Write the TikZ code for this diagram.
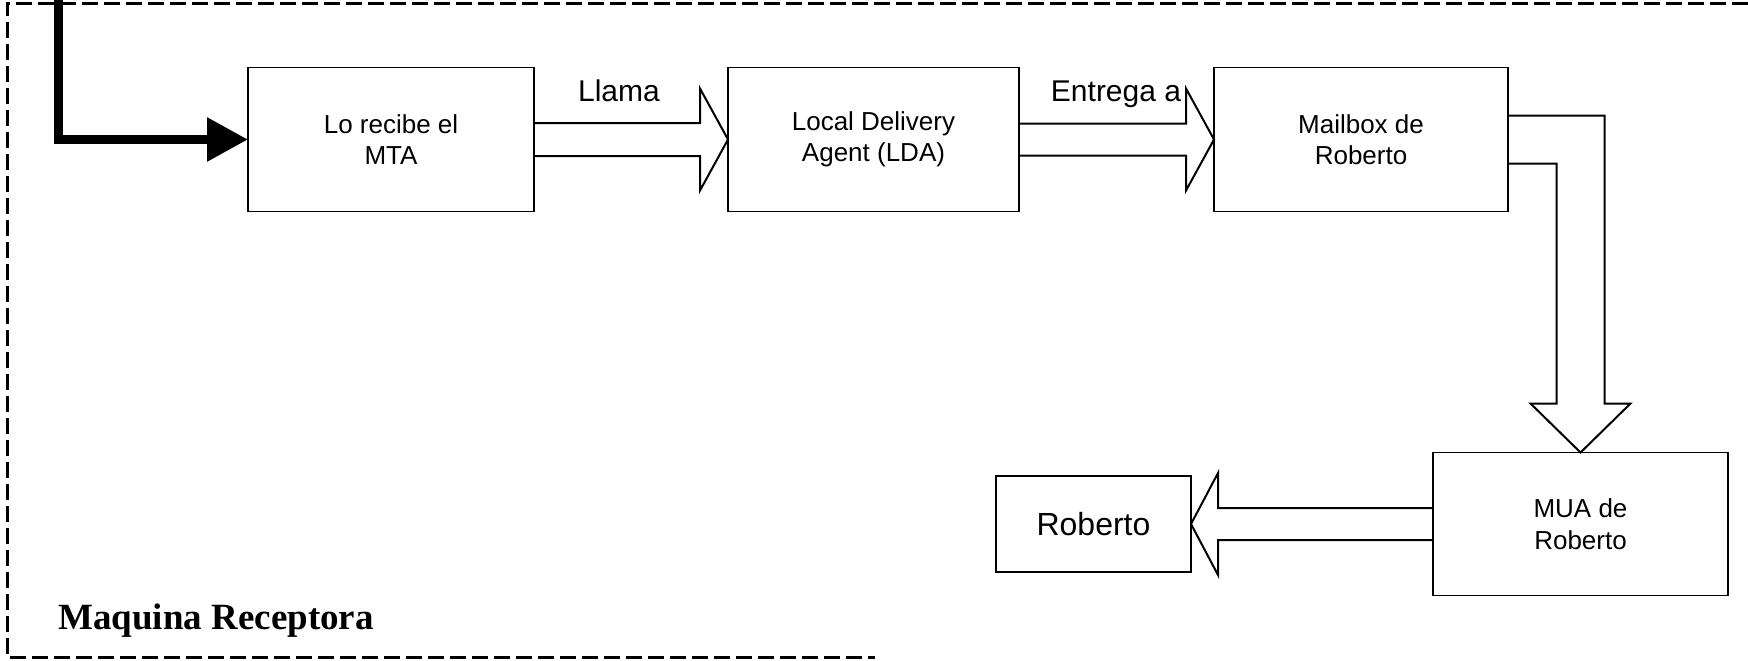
\documentclass[tikz,border=0pt]{standalone}
\usepackage{fontspec}
\setmainfont{Liberation Sans}
\newfontfamily\serifface{Liberation Serif}
\usetikzlibrary{calc,arrows.meta}
\begin{document}
\begin{tikzpicture}[x=0.5pt,y=-0.5pt,
  box/.style={draw,line width=0.8pt,inner sep=0pt,outer sep=0pt,align=center,
    font=\fontsize{13}{15.5}\selectfont},
  blockarrow/.style={draw,line width=1pt,line join=miter},
  lbl/.style={font=\fontsize{15}{18}\selectfont,inner sep=0pt,anchor=base},
  framestyle/.style={line width=1.5pt,dash pattern=on 8pt off 3pt},
  thickarrow/.style={line width=4.5pt,line join=miter,
    -{Triangle[length=20.5pt,width=21pt]}}]
\useasboundingbox (0,0) rectangle (1748,660);

% frame
\coordinate (fTR) at (1748,3);
\coordinate (fTL) at (7,3);
\coordinate (fBL) at (7,657);
\coordinate (fBR) at (875,657);
\draw[framestyle] (fTR) -- (fTL) -- (fBL) -- (fBR);

% boxes
\node[box,minimum width=143pt,minimum height=72pt] (b1) at (391,139.5) {Lo recibe el\\MTA};
\node[box,minimum width=145.5pt,minimum height=72pt] (b2) at (873.5,139.5) {Local Delivery\\Agent (LDA)};
\node[box,minimum width=147pt,minimum height=72pt] (b3) at (1361,139.5) {Mailbox de\\Roberto};
\node[box,minimum width=147.5pt,minimum height=71.5pt,font=\fontsize{13}{16}\selectfont] (mua) at (1580.5,524) {MUA de\\Roberto};
\node[box,minimum width=97.5pt,minimum height=48pt,font=\fontsize{16}{19}\selectfont] (rob) at (1093.5,524) {Roberto};

% labels
\node[lbl] (llama) at (619,101) {Llama};
\node[lbl] (entrega) at (1116,101) {Entrega a};
\node[anchor=base west,inner sep=0pt,font=\serifface\bfseries\fontsize{18.5}{22}\selectfont] (maq) at (58,629) {Maquina Receptora};

% incoming thick arrow
\coordinate (src) at (58,0);
\draw[thickarrow] (src) |- (b1.west);

% hollow arrow b1 -> b2
\draw[blockarrow] ($(b1.east)+(0,-16.5)$) -- ($(b2.west)+(-28,-16.5)$) -- ($(b2.west)+(-28,-51)$)
  -- (b2.west) -- ($(b2.west)+(-28,51)$) -- ($(b2.west)+(-28,16.5)$) -- ($(b1.east)+(0,16.5)$);

% hollow arrow b2 -> b3
\draw[blockarrow] ($(b2.east)+(0,-16)$) -- ($(b3.west)+(-28,-16)$) -- ($(b3.west)+(-28,-51)$)
  -- (b3.west) -- ($(b3.west)+(-28,51)$) -- ($(b3.west)+(-28,16)$) -- ($(b2.east)+(0,16)$);

% bent hollow arrow b3 -> mua
\draw[blockarrow] ($(b3.east)+(0,-24)$) -| ($(mua.north)+(24,-49)$) -- ($(mua.north)+(50,-49)$)
  -- (mua.north) -- ($(mua.north)+(-50,-49)$) -- ($(mua.north)+(-24,-49)$) |- ($(b3.east)+(0,24)$);

% hollow arrow mua -> rob
\draw[blockarrow] ($(mua.west)+(0,-16)$) -- ($(rob.east)+(27,-16)$) -- ($(rob.east)+(27,-51)$)
  -- (rob.east) -- ($(rob.east)+(27,51)$) -- ($(rob.east)+(27,16)$) -- ($(mua.west)+(0,16)$);
\end{tikzpicture}
\end{document}
